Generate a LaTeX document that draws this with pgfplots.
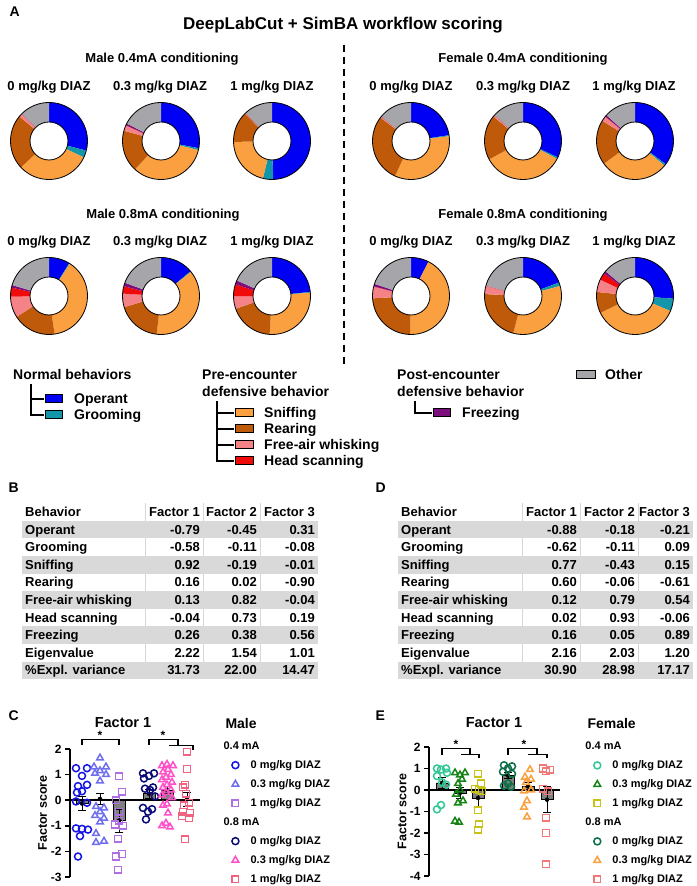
\documentclass[border=0pt]{standalone}
\usepackage{pgfplots}
\pgfplotsset{compat=1.18}
\usepackage{fontspec}
\setmainfont{Liberation Sans}
\newcommand\F[1]{\fontsize{#1}{#1}\selectfont\bfseries}
% donut colours
\definecolor{dc1}{RGB}{0,0,245}
\definecolor{dc2}{RGB}{20,150,170}
\definecolor{dc3}{RGB}{250,160,65}
\definecolor{dc4}{RGB}{190,90,10}
\definecolor{dc5}{RGB}{245,130,135}
\definecolor{dc6}{RGB}{240,10,10}
\definecolor{dc7}{RGB}{125,15,125}
\definecolor{dc8}{RGB}{165,165,170}
\definecolor{tabg}{RGB}{217,217,217}
\definecolor{sepc}{RGB}{215,215,215}
\definecolor{barg}{RGB}{128,128,128}
% panel C colours
\definecolor{ca}{RGB}{20,20,230}
\definecolor{cb}{RGB}{110,110,240}
\definecolor{cc}{RGB}{175,110,225}
\definecolor{cd}{RGB}{10,10,120}
\definecolor{ce}{RGB}{255,80,200}
\definecolor{cf}{RGB}{240,100,130}
% panel E colours
\definecolor{ea}{RGB}{50,200,150}
\definecolor{eb}{RGB}{20,130,20}
\definecolor{ec}{RGB}{200,195,20}
\definecolor{ed}{RGB}{10,110,70}
\definecolor{ee}{RGB}{250,160,60}
\definecolor{ef}{RGB}{240,120,120}

% donut: x, y, percentages (Operant, Grooming, Sniffing, Rearing, Free-air whisking, Head scanning, Freezing, Other)
\newcommand{\donut}[3]{%
  \begin{scope}[shift={(#1,#2)}]
  \gdef\cumA{0}%
  \foreach \v [count=\i] in {#3} {%
    \pgfmathsetmacro\sa{90-3.6*\cumA}%
    \pgfmathsetmacro\newcum{\cumA+\v}%
    \xdef\cumA{\newcum}%
    \pgfmathsetmacro\ea{90-3.6*\cumA}%
    \fill[dc\i] (\sa:38.5pt) arc[start angle=\sa, end angle=\ea, radius=38.5pt] -- (\ea:19pt) arc[start angle=\ea, end angle=\sa, radius=19pt] -- cycle;
  }%
  \draw[line width=0.8pt, black] (0,0) circle[radius=38.5pt] (0,0) circle[radius=19pt];
  \end{scope}}

\begin{document}
\begin{tikzpicture}[x=1pt,y=1pt]
\useasboundingbox (0,0) rectangle (696,886);
\fill[white] (0,0) rectangle (696,886);

% ---------- panel A ----------
\node[anchor=west, font=\F{14}] at (6,874) {A};
\node[font=\F{17}] at (343,861) {DeepLabCut + SimBA workflow scoring};
\draw[line width=2.8pt, dash pattern=on 7pt off 5pt] (344,841) -- (344,521);

\node[font=\F{13}] at (162,827) {Male 0.4mA conditioning};
\node[font=\F{13}] at (523,827) {Female 0.4mA conditioning};
\node[font=\F{13}] at (163,671) {Male 0.8mA conditioning};
\node[font=\F{13}] at (523,671) {Female 0.8mA conditioning};

\foreach \xx/\t in {49/{0 mg/kg DIAZ}, 160/{0.3 mg/kg DIAZ}, 272/{1 mg/kg DIAZ}, 411/{0 mg/kg DIAZ}, 523/{0.3 mg/kg DIAZ}, 634/{1 mg/kg DIAZ}} {
  \node[font=\F{13}] at (\xx,799) {\t};
  \node[font=\F{13}] at (\xx,644) {\t};
}

\donut{49}{745}{29,3,31,23,1.5,0,0,12.5}
\donut{161}{745}{28,0.8,33,17.5,2.4,0,0.8,17.5}
\donut{272}{745}{49.5,4.3,20.8,13,0.4,0,0,12}
\donut{411}{745}{22.6,0.4,33.8,28.6,0.6,0,0,14}
\donut{523}{745}{32,0.7,34.4,18.9,0.8,0,0,13.2}
\donut{635}{745}{35.3,0.8,28.9,18.8,2.2,0,0.7,13.3}
\donut{49}{590}{8.8,0.3,38.6,18.2,8.8,3.8,1.1,20.4}
\donut{161}{590}{13.9,0.3,37.6,18.5,5.7,3.1,1.5,19.4}
\donut{272}{590}{23.3,0.3,27.4,18.6,5.3,5.0,1.7,18.4}
\donut{411}{590}{7.5,0,42.9,23.6,5.0,0,1.1,19.9}
\donut{523}{590}{19.3,1.5,33.3,21.7,3.5,0,0,20.7}
\donut{635}{590}{26.1,5.3,36.4,8.9,5.3,3.0,1.1,13.9}

% ---------- legend of A ----------
\tikzset{lbl/.style={anchor=base west, font=\F{14}, inner sep=0}}
\node[lbl] at (13,506) {Normal behaviors};
\draw[line width=1.8pt] (31,502) -- (31,471) -- (44,471) (31,487) -- (44,487);
\draw[fill=dc1, line width=1pt] (45,483) rectangle (62,491);
\draw[fill=dc2, line width=1pt] (45,467) rectangle (62,475);
\node[lbl] at (74,482) {Operant};
\node[lbl] at (74,466) {Grooming};

\node[lbl] at (202,506) {Pre-encounter};
\node[lbl] at (202,489) {defensive behavior};
\draw[line width=1.8pt] (217,485) -- (217,425) -- (234,425) (217,473) -- (234,473) (217,457) -- (234,457) (217,441) -- (234,441);
\draw[fill=dc3, line width=1pt] (235,469) rectangle (253,477);
\draw[fill=dc4, line width=1pt] (235,453) rectangle (253,461);
\draw[fill=dc5, line width=1pt] (235,437) rectangle (253,445);
\draw[fill=dc6, line width=1pt] (235,421) rectangle (253,429);
\node[lbl] at (264,468) {Sniffing};
\node[lbl] at (264,452) {Rearing};
\node[lbl] at (264,436) {Free-air whisking};
\node[lbl] at (264,420) {Head scanning};

\node[lbl] at (397,506) {Post-encounter};
\node[lbl] at (397,489) {defensive behavior};
\draw[line width=1.8pt] (415,485) -- (415,473) -- (432,473);
\draw[fill=dc7, line width=1pt] (433,469) rectangle (450,477);
\node[lbl] at (462,468) {Freezing};

\draw[fill=dc8, line width=1pt] (576,507) rectangle (595,515);
\node[lbl] at (605,506) {Other};

% ---------- tables B and D ----------
\node[anchor=west, font=\F{14}] at (5,398) {B};
\node[anchor=west, font=\F{14}] at (372,398) {D};

\foreach \xs in {145,203,260} {\draw[sepc, line width=0.8pt] (\xs,382.8) -- (\xs,206.8);}
\foreach \n/\a/\b/\c [count=\i] in {Behavior/Factor 1/Factor 2/Factor 3, Operant/-0.79/-0.45/0.31, Grooming/-0.58/-0.11/-0.08, Sniffing/0.92/-0.19/-0.01, Rearing/0.16/0.02/-0.90, Free-air whisking/0.13/0.82/-0.04, Head scanning/-0.04/0.73/0.19, Freezing/0.26/0.38/0.56, Eigenvalue/2.22/1.54/1.01, \%Expl. variance/31.73/22.00/14.47} {
  \pgfmathsetmacro\yy{374-(\i-1)*17.6}
  \ifodd\i\relax\else\fill[tabg] (22,{\yy-8.8}) rectangle (318,{\yy+8.8});\fi
  \node[anchor=base west, font=\F{13}, inner sep=0] at (25,{\yy-4.6}) {\n};
  \node[anchor=base east, font=\F{13}, inner sep=0] at (200,{\yy-4.6}) {\a};
  \node[anchor=base east, font=\F{13}, inner sep=0] at (257,{\yy-4.6}) {\b};
  \node[anchor=base east, font=\F{13}, inner sep=0] at (315,{\yy-4.6}) {\c};
}

\foreach \xs in {522,580,638} {\draw[sepc, line width=0.8pt] (\xs,382.8) -- (\xs,206.8);}
\foreach \n/\a/\b/\c [count=\i] in {Behavior/Factor 1/Factor 2/Factor 3, Operant/-0.88/-0.18/-0.21, Grooming/-0.62/-0.11/0.09, Sniffing/0.77/-0.43/0.15, Rearing/0.60/-0.06/-0.61, Free-air whisking/0.12/0.79/0.54, Head scanning/0.02/0.93/-0.06, Freezing/0.16/0.05/0.89, Eigenvalue/2.16/2.03/1.20, \%Expl. variance/30.90/28.98/17.17} {
  \pgfmathsetmacro\yy{374-(\i-1)*17.6}
  \ifodd\i\relax\else\fill[tabg] (398,{\yy-8.8}) rectangle (693,{\yy+8.8});\fi
  \node[anchor=base west, font=\F{13}, inner sep=0] at (401,{\yy-4.6}) {\n};
  \node[anchor=base east, font=\F{13}, inner sep=0] at (577,{\yy-4.6}) {\a};
  \node[anchor=base east, font=\F{13}, inner sep=0] at (635,{\yy-4.6}) {\b};
  \node[anchor=base east, font=\F{13}, inner sep=0] at (690,{\yy-4.6}) {\c};
}

% ---------- panel C ----------
\node[anchor=west, font=\F{14}] at (5,170) {C};
\node[font=\F{14.5}] at (123,163) {Factor 1};
\node[anchor=west, font=\F{14}] at (222,163) {Male};

\begin{axis}[
  at={(70pt,9pt)}, anchor=south west,
  scale only axis, width=130pt, height=128pt,
  xmin=70, xmax=200, ymin=-3, ymax=2,
  axis x line=none, axis y line=left,
  axis line style={-, line width=1.5pt},
  xtick=\empty,
  ytick={-3,-2,-1,0,1,2}, yticklabels={-3,-2,-1,0,1,2},
  yticklabel style={font=\F{12}},
  tick align=outside, major tick length=5pt, tick style={line width=1.5pt, black},
  ylabel={Factor score},
  ylabel style={font=\F{12.5}, at={(axis description cs:-0.21,0.5)}, anchor=center},
  clip=false,
  legend style={at={(1.177,1.094)}, anchor=north west, draw=none, fill=none, font=\F{11}, row sep=5pt, nodes={inner sep=1pt, text height=9pt, text depth=3pt}},
  legend cell align=left,
  legend image code/.code={\path (0pt,0pt) (23pt,0pt); \draw[#1] plot coordinates {(9pt,0pt)};},
]
\addplot[ybar, bar width=12pt, fill=barg, draw=black, line width=0.8pt, forget plot] coordinates {(82,-0.13)(100,0.05)(119,-0.8)(149,0.25)(167,0.4)(187,0.04)};
\addplot[black, line width=1.5pt, forget plot] coordinates {(70,0)(200,0)};
\addplot[only marks, mark=none, forget plot, error bars/.cd, y dir=both, y explicit, error bar style={line width=1pt, black}, error mark options={rotate=90, mark size=4pt, line width=1pt, black}] coordinates {(82,-0.13) +- (0,0.29) (100,0.05) +- (0,0.21) (119,-0.8) +- (0,0.45) (149,0.25) +- (0,0.17) (167,0.4) +- (0,0.13) (187,0.04) +- (0,0.28)};

\addlegendimage{empty legend}\addlegendentry{\hspace*{-27pt}0.4 mA}
\addplot[only marks, mark=o, mark size=3.5pt, ca, mark options={line width=1.5pt}] coordinates {(76,1.25)(87,1.25)(82,0.95)(87,0.6)(78,0.55)(82,0.35)(77,0.3)(76,-0.05)(87,-0.1)(76,-1.1)(82,-1.12)(88,-1.15)(80,-1.4)(78,-2.2)};
\addlegendentry{0 mg/kg DIAZ}
\addplot[only marks, mark=triangle, mark size=3.8pt, cb, mark options={line width=1.5pt}] coordinates {(100,1.65)(94,1.3)(106,1.3)(100,1.15)(95,1.05)(106,1.0)(100,0.75)(96,-0.25)(104,-0.3)(100,-0.45)(95,-0.6)(104,-0.7)(100,-0.85)(96,-1.3)(104,-1.6)(96,-1.65)};
\addlegendentry{0.3 mg/kg DIAZ}
\addplot[only marks, mark=square, mark size=3.3pt, cc, mark options={line width=1.5pt}] coordinates {(119,0.93)(122,0.33)(116,0.0)(119,-0.45)(115,-0.95)(123,-1.0)(119,-0.8)(118,-1.5)(122,-2.1)(116,-2.2)(118,-2.72)};
\addlegendentry{1 mg/kg DIAZ}
\addlegendimage{empty legend}\addlegendentry{\hspace*{-27pt}0.8 mA}
\addplot[only marks, mark=o, mark size=3.5pt, cd, mark options={line width=1.5pt}] coordinates {(143,1.05)(154,1.05)(149,0.95)(144,0.85)(153,0.5)(145,0.45)(150,0.4)(155,0.15)(143,-0.3)(152,-0.35)(148,-0.45)(146,-0.75)};
\addlegendentry{0 mg/kg DIAZ}
\addplot[only marks, mark=triangle, mark size=3.8pt, ce, mark options={line width=1.5pt}] coordinates {(167,1.4)(162,1.35)(173,1.35)(168,1.2)(163,1.1)(171,1.0)(166,0.9)(162,0.8)(172,0.7)(167,0.6)(163,0.5)(171,0.4)(166,0.3)(162,0.2)(172,0.1)(167,-0.15)(163,-0.2)(168,-0.5)(166,-0.9)(162,-1.0)(170,-1.05)};
\addlegendentry{0.3 mg/kg DIAZ}
\addplot[only marks, mark=square, mark size=3.3pt, cf, mark options={line width=1.5pt}] coordinates {(187,1.9)(187,1.22)(185,0.6)(183,0.5)(186,0.25)(189,-0.1)(184,-0.2)(183,-0.45)(190,-0.5)(182,-0.62)(189,-0.7)(185,-1.53)};
\addlegendentry{1 mg/kg DIAZ}

\draw[line width=1.2pt] (axis cs:82,2.15) -- (axis cs:82,2.38) -- (axis cs:119,2.38) -- (axis cs:119,2.15);
\node[font=\F{12}] at (axis cs:100,2.55) {*};
\draw[line width=1.2pt] (axis cs:149,2.15) -- (axis cs:149,2.38) -- (axis cs:178,2.38) -- (axis cs:178,2.15);
\draw[line width=1.2pt] (axis cs:169,2.15) -- (axis cs:193,2.15) -- (axis cs:193,1.95);
\node[font=\F{12}] at (axis cs:163,2.55) {*};
\end{axis}

% ---------- panel E ----------
\node[anchor=west, font=\F{14}] at (372,170) {E};
\node[font=\F{14.5}] at (494,163) {Factor 1};
\node[anchor=west, font=\F{14}] at (584,163) {Female};

\begin{axis}[
  at={(429pt,10pt)}, anchor=south west,
  scale only axis, width=131pt, height=129pt,
  xmin=429, xmax=560, ymin=-4, ymax=2,
  axis x line=none, axis y line=left,
  axis line style={-, line width=1.5pt},
  xtick=\empty,
  ytick={-4,-3,-2,-1,0,1,2}, yticklabels={-4,-3,-2,-1,0,1,2},
  yticklabel style={font=\F{12}},
  tick align=outside, major tick length=5pt, tick style={line width=1.5pt, black},
  ylabel={Factor score},
  ylabel style={font=\F{12.5}, at={(axis description cs:-0.206,0.5)}, anchor=center},
  clip=false,
  legend style={at={(1.19,1.076)}, anchor=north west, draw=none, fill=none, font=\F{11}, row sep=5pt, nodes={inner sep=1pt, text height=9pt, text depth=3pt}},
  legend cell align=left,
  legend image code/.code={\path (0pt,0pt) (23pt,0pt); \draw[#1] plot coordinates {(9pt,0pt)};},
]
\addplot[ybar, bar width=12pt, fill=barg, draw=black, line width=0.8pt, forget plot] coordinates {(442,0.33)(460,-0.14)(478,-0.37)(508,0.67)(528,0.17)(547,-0.45)};
\addplot[black, line width=1.5pt, forget plot] coordinates {(429,0)(560,0)};
\addplot[only marks, mark=none, forget plot, error bars/.cd, y dir=both, y explicit, error bar style={line width=1pt, black}, error mark options={rotate=90, mark size=4pt, line width=1pt, black}] coordinates {(442,0.33) +- (0,0.25) (460,-0.14) +- (0,0.25) (478,-0.37) +- (0,0.38) (508,0.67) +- (0,0.13) (528,0.17) +- (0,0.2) (547,-0.45) +- (0,0.6)};

\addlegendimage{empty legend}\addlegendentry{\hspace*{-27pt}0.4 mA}
\addplot[only marks, mark=o, mark size=3.5pt, ea, mark options={line width=1.5pt}] coordinates {(437,1.0)(446,1.0)(441,0.95)(447,0.8)(437,0.65)(442,0.35)(446,0.25)(441,-0.7)(437,-0.9)};
\addlegendentry{0 mg/kg DIAZ}
\addplot[only marks, mark=triangle, mark size=3.8pt, eb, mark options={line width=1.5pt}] coordinates {(455,0.8)(465,0.8)(460,0.7)(462,0.5)(458,0.3)(460,0.0)(456,-0.2)(463,-0.5)(458,-0.6)(455,-1.45)(459,-1.5)};
\addlegendentry{0.3 mg/kg DIAZ}
\addplot[only marks, mark=square, mark size=3.3pt, ec, mark options={line width=1.5pt}] coordinates {(478,0.75)(481,0.3)(475,0.05)(479,0.0)(482,-0.05)(478,-0.95)(479,-1.6)(478,-1.85)};
\addlegendentry{1 mg/kg DIAZ}
\addlegendimage{empty legend}\addlegendentry{\hspace*{-27pt}0.8 mA}
\addplot[only marks, mark=o, mark size=3.5pt, ed, mark options={line width=1.5pt}] coordinates {(504,1.15)(512,1.1)(508,1.0)(503,0.85)(512,0.75)(508,0.3)(504,0.2)(511,0.15)};
\addlegendentry{0 mg/kg DIAZ}
\addplot[only marks, mark=triangle, mark size=3.8pt, ee, mark options={line width=1.5pt}] coordinates {(530,0.95)(525,0.6)(531,0.5)(526,0.35)(531,0.0)(524,-0.05)(527,-0.5)(524,-0.8)(527,-1.25)};
\addlegendentry{0.3 mg/kg DIAZ}
\addplot[only marks, mark=square, mark size=3.3pt, ef, mark options={line width=1.5pt}] coordinates {(543,1.0)(550,0.95)(546,0.88)(543,0.05)(548,-0.05)(546,-1.3)(546,-2.0)(546,-3.45)};
\addlegendentry{1 mg/kg DIAZ}

\draw[line width=1.2pt] (axis cs:442,1.65) -- (axis cs:442,1.93) -- (axis cs:470,1.93) -- (axis cs:470,1.65);
\draw[line width=1.2pt] (axis cs:461,1.65) -- (axis cs:479,1.65) -- (axis cs:479,1.5);
\node[font=\F{12}] at (axis cs:456,2.12) {*};
\draw[line width=1.2pt] (axis cs:508,1.65) -- (axis cs:508,1.93) -- (axis cs:537,1.93) -- (axis cs:537,1.65);
\draw[line width=1.2pt] (axis cs:528,1.65) -- (axis cs:547,1.65) -- (axis cs:547,1.5);
\node[font=\F{12}] at (axis cs:524,2.12) {*};
\end{axis}
\end{tikzpicture}
\end{document}
